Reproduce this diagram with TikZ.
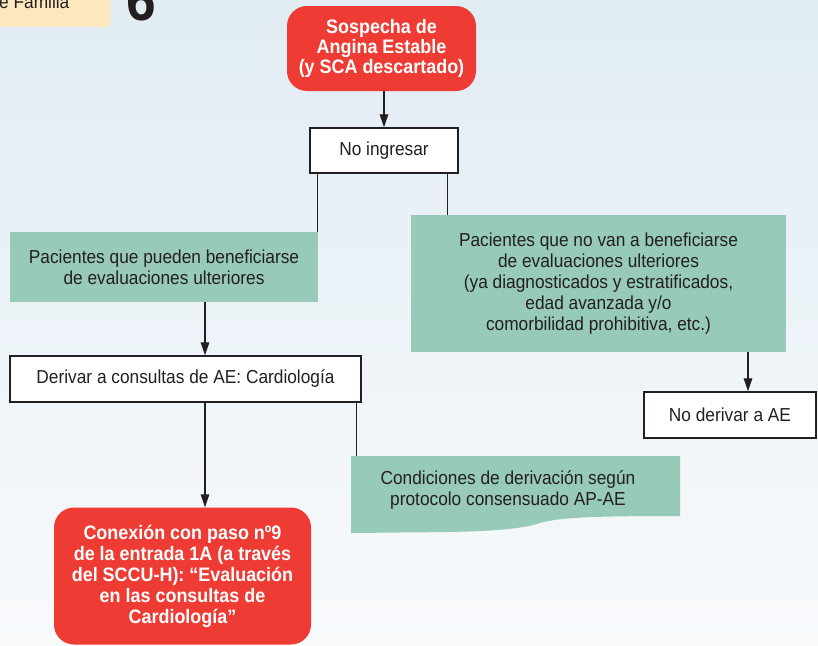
\documentclass[tikz,border=0pt]{standalone}
\usepackage{fontspec}
\setmainfont{Liberation Sans}[FakeStretch=0.92]
\usetikzlibrary{arrows.meta}
\definecolor{bgtop}{HTML}{E1ECF3}
\definecolor{bgbot}{HTML}{F8FAFC}
\definecolor{redbox}{HTML}{EE3B33}
\definecolor{greenbox}{HTML}{97CAB8}
\definecolor{yellowbox}{HTML}{FDE7BF}
\definecolor{ink}{HTML}{231F20}
\begin{document}
\begin{tikzpicture}[x=1pt,y=-1pt,
  txt/.style={font=\fontsize{18.8}{21}\selectfont, text=ink, align=center},
  redstyle/.style={fill=redbox, rounded corners=20pt, text=white,
    font=\fontsize{19.5}{20}\selectfont\bfseries, align=center, inner sep=0pt},
  whitebox/.style={draw=ink, line width=1.4pt, fill=white, txt, inner sep=0pt},
  greenstyle/.style={fill=greenbox, txt, inner sep=0pt},
  conn/.style={draw=ink, line width=1.3pt},
  arr/.style={conn, -{Triangle[length=13pt,width=8.5pt]}}]
\useasboundingbox (0,0) rectangle (818,645);
\clip (0,0) rectangle (818,645);
\shade[top color=bgtop, bottom color=bgbot] (0,0) rectangle (818,645);

% header fragments
\fill[yellowbox] (0,0) rectangle (110,27);
\node[txt, anchor=base west, inner sep=0pt] (fam) at (-1,9) {e Familia};
\node[anchor=base, inner sep=0pt, text=ink, font=\fontsize{58}{58}\selectfont\bfseries] (six) at (141.5,20) {6};

% nodes
\node[redstyle, minimum width=189pt, minimum height=85pt] (sos) at (381.5,48.5)
  {Sospecha de\\Angina Estable\\(y SCA descartado)};
\node[whitebox, minimum width=148pt, minimum height=45pt] (noing) at (384,150.5) {No ingresar};
\node[greenstyle, minimum width=308pt, minimum height=70pt] (pleft) at (164,267)
  {Pacientes que pueden beneficiarse\\de evaluaciones ulteriores};
\node[greenstyle, minimum width=375pt, minimum height=137pt] (pright) at (598.5,283.5)
  {Pacientes que no van a beneficiarse\\de evaluaciones ulteriores\\(ya diagnosticados y estratificados,\\edad avanzada y/o\\comorbilidad prohibitiva, etc.)};
\node[whitebox, minimum width=351pt, minimum height=46pt] (deriv) at (185.5,379)
  {Derivar a consultas de AE: Cardiología};
\node[whitebox, minimum width=172pt, minimum height=46pt] (noder) at (730,415) {No derivar a AE};
\node[redstyle, font=\fontsize{19.5}{21}\selectfont\bfseries, minimum width=257pt, minimum height=137pt] (conex) at (182.5,576)
  {Conexión con paso nº9\\de la entrada 1A (a través\\del SCCU-H): “Evaluación\\en las consultas de\\Cardiología”};

% conditions box with wavy bottom
\coordinate (condNW) at (351,456);
\fill[greenbox] (condNW) -- (680,456) -- (680,516)
  .. controls (600,516) and (560,517) .. (540,523)
  .. controls (525,528) and (500,531) .. (450,532) -- (351,533) -- cycle;
\node[txt, inner sep=0pt] (cond) at (508,490)
  {Condiciones de derivación según\\protocolo consensuado AP-AE};

% connector columns
\coordinate (ax) at (205,0);
\coordinate (bx) at (748,0);

% connectors
\draw[arr] (sos.south -| noing.north) -- (noing.north);
\draw[conn] ([xshift=8pt]noing.south west) -- ([xshift=8pt]noing.south west |- pleft.north);
\draw[conn] ([xshift=-11pt]noing.south east) -- ([xshift=-11pt]noing.south east |- pright.north);
\draw[arr] (pleft.south -| ax) -- (deriv.north -| ax);
\draw[arr] (deriv.south -| ax) -- (conex.north -| ax);
\draw[conn] ([xshift=-5pt]deriv.south east) -- ([xshift=-5pt]deriv.south east |- condNW);
\draw[arr] (pright.south -| bx) -- (noder.north -| bx);
\end{tikzpicture}
\end{document}
